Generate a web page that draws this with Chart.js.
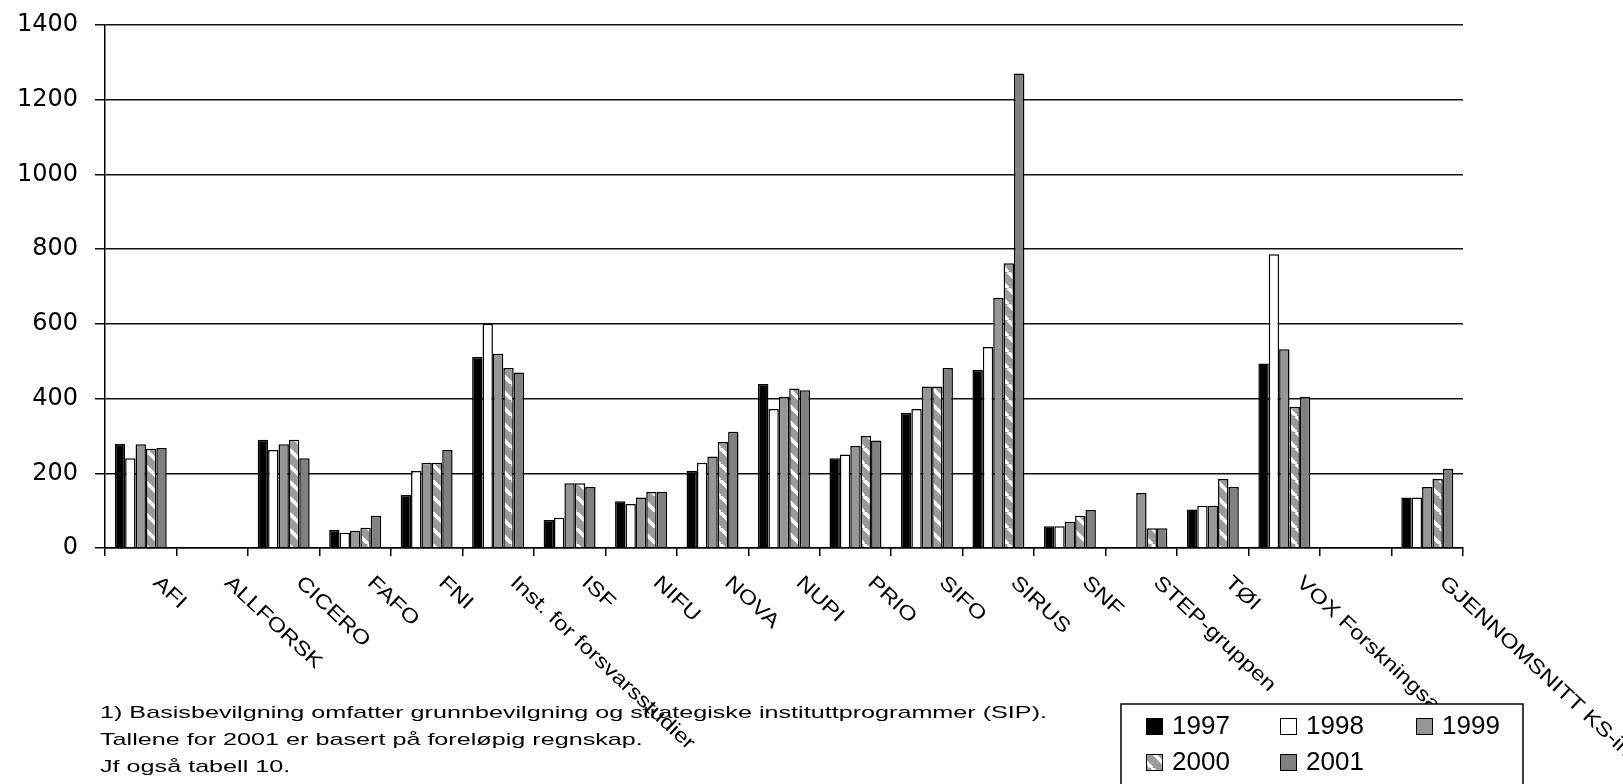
<!DOCTYPE html>
<html>
<head>
<meta charset="utf-8">
<script src="https://cdn.jsdelivr.net/npm/chart.js@4.4.1/dist/chart.umd.min.js"></script>
<style>
  html, body { margin: 0; padding: 0; background: #fff; }
  #wrap { width: 1623px; height: 784px; position: relative; }
</style>
</head>
<body>
<div id="wrap"><canvas id="chart"></canvas></div>
<script>
const categories = ['AFI', 'ALLFORSK', 'CICERO', 'FAFO', 'FNI', 'Inst. for forsvarsstudier', 'ISF', 'NIFU',
  'NOVA', 'NUPI', 'PRIO', 'SIFO', 'SIRUS', 'SNF', 'STEP-gruppen', 'TØI', 'VOX Forskningsavdelingen', '',
  'GJENNOMSNITT KS-institutter']
const years = ['1997', '1998', '1999', '2000', '2001']

const v1997 = [279, null, 290, 48, 142, 511, 75, 125, 207, 439, 240, 362, 477, 58, null, 103, 494, null, 135]
const v1998 = [240, null, 262, 41, 206, 600, 81, 118, 228, 372, 250, 372, 538, 58, null, 113, 786, null, 135]
const v1999 = [278, null, 278, 46, 228, 520, 173, 135, 245, 405, 273, 432, 669, 70, 147, 113, 532, null, 163]
const v2000 = [266, null, 290, 54, 228, 482, 173, 150, 284, 427, 300, 432, 762, 86, 53, 185, 378, null, 185]
const v2001 = [268, null, 240, 86, 262, 470, 163, 150, 311, 422, 288, 482, 1270, 102, 53, 163, 405, null, 212]

const yTicks = [0, 200, 400, 600, 800, 1000, 1200, 1400]

const notes = [
  '1) Basisbevilgning omfatter grunnbevilgning og strategiske instituttprogrammer (SIP).',
  'Tallene for 2001 er basert på foreløpig regnskap.',
  'Jf også tabell 10.',
]

// grey with white "\" dashes, like the old Excel fill
function hatch() {
  const c = document.createElement('canvas')
  c.width = 16
  c.height = 16
  const g = c.getContext('2d')
  g.fillStyle = '#9a9a9a'
  g.fillRect(0, 0, 16, 16)
  g.strokeStyle = '#fff'
  g.lineWidth = 3.5
  for (const off of [-16, 0, 16]) {
    g.beginPath()
    g.moveTo(off, 0)
    g.lineTo(off + 16, 16)
    g.stroke()
  }
  return g.createPattern(c, 'repeat')
}

const fills = ['#000000', '#ffffff', '#969696', hatch(), '#808080']
const series = [v1997, v1998, v1999, v2000, v2001]

const decorations = {
  id: 'decorations',
  afterDraw(chart) {
    const ctx = chart.ctx
    const xs = chart.scales.x
    const bottom = chart.chartArea.bottom
    ctx.save()
    ctx.fillStyle = '#000'

    // slanted category names
    ctx.font = '20px "Liberation Sans", Arial, sans-serif'
    ctx.textAlign = 'left'
    ctx.textBaseline = 'middle'
    categories.forEach((name, i) => {
      if (!name) return
      ctx.save()
      ctx.translate(xs.getPixelForValue(i) + 15, bottom + 32)
      ctx.rotate(43 * Math.PI / 180)
      ctx.scale(1.2, 1)
      ctx.fillText(name, 0, 0)
      ctx.restore()
    })

    // footnote
    ctx.font = '17px "Liberation Sans", Arial, sans-serif'
    ctx.textBaseline = 'alphabetic'
    const stretch = 947 / ctx.measureText(notes[0]).width
    notes.forEach((line, i) => {
      ctx.save()
      ctx.translate(100, 718 + i * 27)
      ctx.scale(stretch, 1)
      ctx.fillText(line, 0, 0)
      ctx.restore()
    })

    // legend box
    ctx.fillStyle = '#fff'
    ctx.strokeStyle = '#000'
    ctx.lineWidth = 1.5
    ctx.fillRect(1121, 704, 402, 100)
    ctx.strokeRect(1121, 704, 402, 100)
    const cols = [1146, 1280, 1416]
    const rows = [718, 754]
    ctx.font = '26px "Liberation Sans", Arial, sans-serif'
    ctx.textBaseline = 'middle'
    chart.data.datasets.forEach((ds, i) => {
      const sx = cols[i % 3]
      const sy = rows[Math.floor(i / 3)]
      ctx.fillStyle = ds.backgroundColor
      ctx.fillRect(sx, sy, 17, 17)
      ctx.lineWidth = 1
      ctx.strokeRect(sx + 0.5, sy + 0.5, 16, 16)
      ctx.fillStyle = '#000'
      ctx.fillText(ds.label, sx + 26, sy + 9)
    })
    ctx.restore()
  },
}

new Chart(document.getElementById('chart'), {
  type: 'bar',
  data: {
    labels: categories,
    datasets: series.map((values, i) => ({
      label: years[i],
      data: values,
      backgroundColor: fills[i],
      borderColor: '#000',
      borderWidth: 1.5,
      categoryPercentage: 0.727,
      barPercentage: 1.0,
    })),
  },
  options: {
    responsive: true,
    maintainAspectRatio: false,
    animation: false,
    layout: { padding: { top: 25, right: 160, left: 0, bottom: 0 } },
    plugins: { legend: { display: false }, tooltip: { enabled: false } },
    scales: {
      x: {
        afterFit(s) { s.height = 236 },
        ticks: { display: false },
        grid: { offset: true, drawOnChartArea: false, color: '#000', lineWidth: 1.5, tickLength: 8 },
        border: { color: '#000', width: 1.5 },
      },
      y: {
        min: 0,
        max: 1400,
        afterFit(s) {
          s.width = 105
          s.paddingTop = 12
          s.paddingBottom = 12
        },
        afterBuildTicks(s) { s.ticks = yTicks.map(v => ({ value: v })) },
        ticks: {
          font: { family: 'DejaVu Sans', size: 24 },
          color: '#000',
          padding: 17,
          callback: v => String(v),
        },
        grid: { color: '#111', lineWidth: 1.5, tickLength: 10 },
        border: { color: '#000', width: 1.5 },
      },
    },
  },
  plugins: [decorations],
})
</script>
</body>
</html>
